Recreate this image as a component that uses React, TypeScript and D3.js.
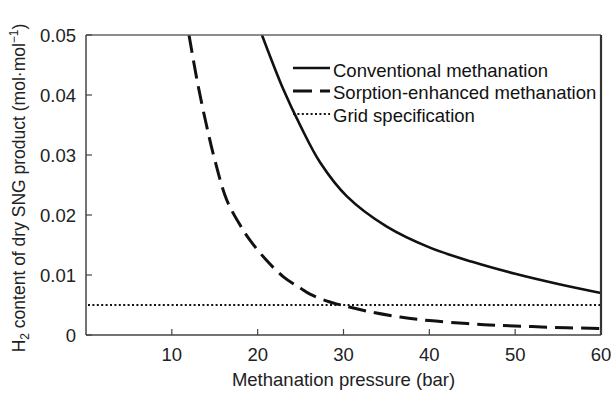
import React from "react";
import * as d3 from "d3";

const xTicks = [10, 20, 30, 40, 50, 60];
const yTicks = [0, 0.01, 0.02, 0.03, 0.04, 0.05];
const yTickLabels = ["0", "0.01", "0.02", "0.03", "0.04", "0.05"];

const convX = [20.5, 23, 25, 27.3, 30.4, 35, 40, 45, 50, 55, 60];
const convY = [0.05, 0.0409, 0.0348, 0.0287, 0.0231, 0.0181, 0.0146, 0.0122, 0.0102, 0.0085, 0.007];

const sorpX = [12, 13, 14, 15, 16.4, 18, 19.1, 21, 23, 25, 26.1, 28, 30, 33, 36.6, 40, 44.4, 48, 52, 56, 60];
const sorpY = [0.05, 0.042, 0.0352, 0.0292, 0.0225, 0.0182, 0.0158, 0.0125, 0.0097, 0.0078, 0.0068, 0.0057, 0.0049, 0.0039, 0.003, 0.0024, 0.0019, 0.0016, 0.0014, 0.0012, 0.0011];

const gridSpec = 0.005;

const legendLabels = ["Conventional methanation", "Sorption-enhanced methanation", "Grid specification"];

const FONT = "'Liberation Sans', Arial, sans-serif";

export default function App() {
  const W = 614, H = 395;
  const L = 86, R = 601, T = 35, B = 335;
  const x = d3.scaleLinear().domain([0, 60]).range([L, R]);
  const y = d3.scaleLinear().domain([0, 0.05]).range([B, T]);
  const line = d3.line<[number, number]>().x(d => x(d[0])).y(d => y(d[1])).curve(d3.curveCatmullRom.alpha(0.5));
  const conv = line(convX.map((v, i) => [v, convY[i]] as [number, number])) || "";
  const sorp = line(sorpX.map((v, i) => [v, sorpY[i]] as [number, number])) || "";
  const ax = "#444";
  const legX1 = 293, legX2 = 330, legTX = 333;
  const legY = [68, 91, 114];
  const legBase = [76.5, 99, 121.5];
  return (
    <svg width={W} height={H} style={{ position: "absolute", left: 0, top: 0, background: "#fff" }} fontFamily={FONT}>
      <defs>
        <clipPath id="plot"><rect x={L} y={T} width={R - L} height={B - T} /></clipPath>
      </defs>
      <g clipPath="url(#plot)">
        <line x1={x(0) + 2} x2={R} y1={y(gridSpec)} y2={y(gridSpec)} stroke="#111" strokeWidth={2.2} strokeDasharray="2,2.4" />
        <path d={sorp} fill="none" stroke="#111" strokeWidth={3} strokeDasharray="18,8" />
        <path d={conv} fill="none" stroke="#111" strokeWidth={2.6} />
      </g>
      <line x1={L} x2={R} y1={T} y2={T} stroke="#666" strokeWidth={1.5} />
      <line x1={R} x2={R} y1={T} y2={B} stroke="#333" strokeWidth={2.2} />
      <line x1={L} x2={L} y1={T} y2={B} stroke={ax} strokeWidth={1.5} />
      <line x1={L} x2={R} y1={B} y2={B} stroke={ax} strokeWidth={1.5} />
      {xTicks.map(t => (
        <g key={t}>
          <line x1={x(t)} x2={x(t)} y1={B} y2={B - 6} stroke={ax} strokeWidth={1.2} />
          <text x={x(t)} y={361} fontSize={18.5} textAnchor="middle" fill="#222">{t}</text>
        </g>
      ))}
      {yTicks.map((t, i) => (
        <g key={t}>
          <line x1={L} x2={L + 6} y1={y(t)} y2={y(t)} stroke={ax} strokeWidth={1.2} />
          <text x={76} y={y(t) + 6.5} fontSize={18.5} textAnchor="end" fill="#222">{yTickLabels[i]}</text>
        </g>
      ))}
      <text x={(L + R) / 2} y={386} fontSize={18.5} textAnchor="middle" fill="#222">Methanation pressure (bar)</text>
      <text transform={`translate(25, ${188}) rotate(-90)`} fontSize={17.5} textAnchor="middle" fill="#222">
        H<tspan fontSize={12} dy={4}>2</tspan><tspan dy={-4}> content of dry SNG product (mol·mol</tspan><tspan fontSize={12} dy={-7}>−1</tspan><tspan dy={7}>)</tspan>
      </text>
      <line x1={legX1} x2={legX2} y1={legY[0]} y2={legY[0]} stroke="#111" strokeWidth={2.6} />
      <line x1={legX1} x2={legX2} y1={legY[1]} y2={legY[1]} stroke="#111" strokeWidth={3} strokeDasharray="19,8" />
      <line x1={legX1} x2={legX2} y1={legY[2]} y2={legY[2]} stroke="#111" strokeWidth={2.2} strokeDasharray="2,2.4" />
      {legendLabels.map((l, i) => (
        <text key={l} x={legTX} y={legBase[i]} fontSize={18.5} fill="#111">{l}</text>
      ))}
    </svg>
  );
}
